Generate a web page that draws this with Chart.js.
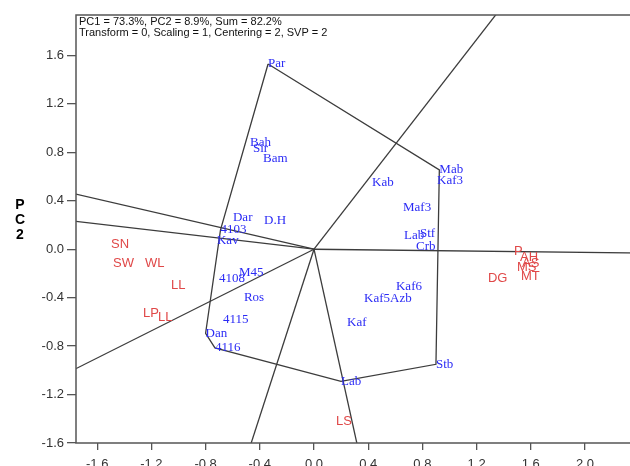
<!DOCTYPE html>
<html>
<head>
<meta charset="utf-8">
<script src="https://cdn.jsdelivr.net/npm/chart.js@4.4.1/dist/chart.umd.min.js"></script>
<style>
  html, body { margin: 0; padding: 0; background: #fff; overflow: hidden; }
  #wrap { position: relative; width: 680px; height: 466px; }
</style>
</head>
<body>
<div id="wrap"><canvas id="c" width="680" height="466"></canvas></div>
<script>
// ---- Data ----
const genoNames = ['Par','Bah','Sir','Bam','Dar','D.H','4103','Kav','M45','4108','Ros','4115','Dan','4116','Lab','Stb','Kaf','Kaf5Azb','Kaf6','Crb','Lab','Stf','Maf3','Kab','Mab','Kaf3'];
const genoX = [-0.339,-0.472,-0.450,-0.376,-0.598,-0.369,-0.690,-0.716,-0.554,-0.701,-0.517,-0.672,-0.800,-0.731,0.199,0.900,0.244,0.369,0.605,0.753,0.664,0.782,0.657,0.428,0.925,0.908];
const genoY = [1.529,0.884,0.835,0.752,0.264,0.240,0.160,0.074,-0.190,-0.240,-0.397,-0.579,-0.694,-0.815,-1.091,-0.950,-0.603,-0.405,-0.306,0.025,0.116,0.132,0.347,0.554,0.655,0.570];

const traitNames = ['SN','SW','WL','LL','LP','LL','LS','P','AH','AS','MS','MT','DG'];
const traitX = [-1.498,-1.483,-1.247,-1.055,-1.262,-1.151,0.162,1.476,1.520,1.535,1.498,1.528,1.284];
const traitY = [0.041,-0.116,-0.116,-0.298,-0.529,-0.562,-1.421,-0.017,-0.066,-0.116,-0.149,-0.223,-0.240];

// convex hull of the genotypes (by name)
const polygonOrder = ['Par','Mab','Stb','Lab','4116','Dan','4103','Par'];

// rays from the origin (end points, clipped by the plot area)
const rayEndX = [1.92, 3.00, 0.634, -0.93, -3.51, -3.51, -3.51];
const rayEndY = [2.77, -0.04, -3.21, -3.21, -1.97, 0.46, 0.91];

const xTickValues = [-1.6,-1.2,-0.8,-0.4,0.0,0.4,0.8,1.2,1.6,2.0,2.4];
const yTickValues = [-1.6,-1.2,-0.8,-0.4,0.0,0.4,0.8,1.2,1.6];

const headerLines = ['PC1 = 73.3%, PC2 = 8.9%, Sum = 82.2%', 'Transform = 0, Scaling = 1, Centering = 2, SVP = 2'];
const yTitleChars = ['P','C','2'];

// ---- Build datasets ----
const LINE = '#3c3c3c';
const BLUE = '#2b2bf5';
const RED = '#e04848';

const polyData = polygonOrder.map(n => { const i = genoNames.indexOf(n); return {x: genoX[i], y: genoY[i]}; });
const datasets = [];
datasets.push({ label: 'hull', data: polyData, showLine: true, borderColor: LINE, borderWidth: 1.3, pointRadius: 0, fill: false, tension: 0 });
rayEndX.forEach((ex, i) => {
  datasets.push({ label: 'ray' + i, data: [{x: 0, y: 0}, {x: ex, y: rayEndY[i]}], showLine: true, borderColor: LINE, borderWidth: 1.3, pointRadius: 0, fill: false });
});
datasets.push({ label: 'geno', data: genoX.map((x, i) => ({x, y: genoY[i]})), pointRadius: 0, showLine: false, labelsList: genoNames, labelColor: BLUE, labelFont: '13px "Liberation Serif", "Times New Roman", serif' });
datasets.push({ label: 'trait', data: traitX.map((x, i) => ({x, y: traitY[i]})), pointRadius: 0, showLine: false, labelsList: traitNames, labelColor: RED, labelFont: '13px "Liberation Sans", Arial, sans-serif' });

const labelPlugin = {
  id: 'labels',
  afterDatasetsDraw(chart) {
    const ctx = chart.ctx;
    chart.data.datasets.forEach((ds, di) => {
      if (!ds.labelsList) return;
      const meta = chart.getDatasetMeta(di);
      ctx.save();
      ctx.font = ds.labelFont;
      ctx.fillStyle = ds.labelColor;
      ctx.textAlign = 'left';
      ctx.textBaseline = 'middle';
      meta.data.forEach((el, i) => { ctx.fillText(ds.labelsList[i], el.x, el.y); });
      ctx.restore();
    });
  }
};

const framePlugin = {
  id: 'frame',
  afterDraw(chart) {
    const ctx = chart.ctx, a = chart.chartArea;
    ctx.save();
    ctx.strokeStyle = '#555';
    ctx.lineWidth = 1.5;
    ctx.strokeRect(a.left, a.top, a.right - a.left, a.bottom - a.top);
    // header
    ctx.fillStyle = '#111';
    ctx.font = '11px "Liberation Sans", Arial, sans-serif';
    ctx.textAlign = 'left';
    ctx.textBaseline = 'alphabetic';
    headerLines.forEach((t, i) => ctx.fillText(t, a.left + 3, a.top + 10 + i * 11));
    // y title
    ctx.font = 'bold 14px "Liberation Sans", Arial, sans-serif';
    ctx.fillStyle = '#000';
    ctx.textAlign = 'center';
    ctx.textBaseline = 'middle';
    yTitleChars.forEach((t, i) => ctx.fillText(t, 20, 205 + i * 15));
    ctx.restore();
  }
};

const tickFont = { family: '"Liberation Sans", Arial, sans-serif', size: 13 };

new Chart(document.getElementById('c'), {
  type: 'scatter',
  data: { datasets },
  options: {
    responsive: false,
    animation: false,
    layout: { padding: { top: 15, left: 0, right: 10, bottom: 0 } },
    plugins: { legend: { display: false }, tooltip: { enabled: false }, title: { display: false } },
    scales: {
      x: {
        type: 'linear',
        min: (76 - 314) / 135.5,
        max: (670 - 314) / 135.5,
        afterBuildTicks: s => { s.ticks = xTickValues.map(v => ({ value: v })); },
        afterFit: s => { s.height = 23; },
        grid: { drawOnChartArea: false, drawTicks: true, tickLength: 7, color: '#555', lineWidth: 1.3 },
        border: { display: false },
        ticks: { font: tickFont, color: '#333', padding: 7, maxRotation: 0, autoSkip: false, callback: v => Number(v).toFixed(1) }
      },
      y: {
        type: 'linear',
        min: -1.6,
        max: 1.934,
        afterBuildTicks: s => { s.ticks = yTickValues.map(v => ({ value: v })); },
        afterFit: s => { s.width = 76; },
        grid: { drawOnChartArea: false, drawTicks: true, tickLength: 9, color: '#555', lineWidth: 1.3 },
        border: { display: false },
        ticks: { font: tickFont, color: '#333', padding: 3, autoSkip: false, callback: v => Number(v).toFixed(1) }
      }
    }
  },
  plugins: [labelPlugin, framePlugin]
});
</script>
</body>
</html>
